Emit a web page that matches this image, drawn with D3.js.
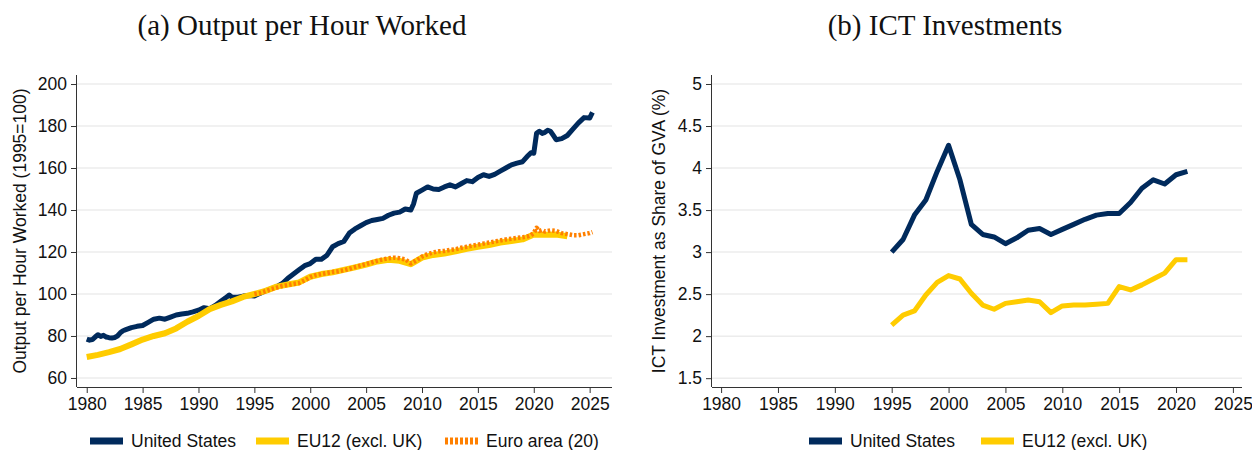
<!DOCTYPE html>
<html>
<head>
<meta charset="utf-8">
<script src="https://cdn.jsdelivr.net/npm/d3@7"></script>
<style>
  body { margin: 0; background: #fff; }
  svg { display: block; }
  .title { font-family: "Liberation Serif", "Times New Roman", serif; font-size: 29px; fill: #111; }
  .axis text { font-family: "Liberation Sans", Arial, sans-serif; font-size: 17.5px; fill: #111; }
  .axis path, .axis line { stroke: #333; }
  .ytitle { font-family: "Liberation Sans", Arial, sans-serif; font-size: 17.5px; fill: #111; }
  .legend text { font-family: "Liberation Sans", Arial, sans-serif; font-size: 17.5px; fill: #111; }
</style>
</head>
<body>
<div id="chart"></div>
<script>
// Panel (a): output per hour worked, 1995=100  [year, value]
var usOutput = [
  [1980.0,78.5],[1980.25,78.0],[1980.5,78.3],[1980.75,79.5],[1981.0,80.6],[1981.25,79.8],[1981.5,80.3],[1981.75,79.5],
  [1982.0,79.2],[1982.25,79.0],[1982.5,79.3],[1982.75,80.0],[1983.0,81.5],[1983.25,82.5],[1983.5,83.0],[1983.75,83.5],
  [1984.0,84.0],[1984.5,84.6],[1985.0,85.0],[1985.5,86.5],[1986.0,88.0],[1986.5,88.5],[1987.0,88.0],[1987.5,89.0],
  [1988.0,90.0],[1988.5,90.5],[1989.0,90.8],[1989.5,91.5],[1990.0,92.3],[1990.5,93.5],[1991.0,93.0],[1991.5,94.5],
  [1992.0,96.5],[1992.5,98.5],[1992.75,99.5],[1993.0,98.5],[1993.5,98.5],[1994.0,99.0],[1994.5,99.3],[1995.0,99.0],
  [1995.5,100.3],[1996.0,101.5],[1996.5,102.5],[1997.0,103.5],[1997.5,105.0],[1998.0,107.5],[1998.5,109.5],[1999.0,111.5],
  [1999.5,113.5],[2000.0,114.5],[2000.5,116.5],[2001.0,116.5],[2001.5,118.5],[2002.0,122.5],[2002.5,124.0],[2003.0,125.0],
  [2003.5,129.0],[2004.0,131.0],[2004.5,132.5],[2005.0,134.0],[2005.5,135.0],[2006.0,135.5],[2006.5,136.0],[2007.0,137.5],
  [2007.5,138.5],[2008.0,139.0],[2008.5,140.5],[2009.0,140.0],[2009.25,143.0],[2009.5,148.0],[2010.0,149.5],[2010.5,151.0],
  [2011.0,150.0],[2011.5,149.8],[2012.0,151.0],[2012.5,152.0],[2013.0,151.0],[2013.5,152.5],[2014.0,154.0],[2014.5,153.5],
  [2015.0,155.5],[2015.5,156.8],[2016.0,156.0],[2016.5,157.0],[2017.0,158.5],[2017.5,160.0],[2018.0,161.5],[2018.5,162.3],
  [2019.0,163.0],[2019.5,166.0],[2019.75,167.3],[2020.0,167.0],[2020.25,176.5],[2020.5,177.5],[2020.75,176.5],[2021.0,177.0],
  [2021.25,178.0],[2021.5,177.5],[2021.75,175.5],[2022.0,173.5],[2022.5,174.0],[2023.0,175.5],[2023.5,178.5],[2024.0,181.5],
  [2024.5,184.0],[2025.0,183.8],[2025.25,186.5]
];

var eu12Output = [
  [1980,70.0],[1981,71.0],[1982,72.3],[1983,73.8],[1984,76.0],[1985,78.3],[1986,80.0],[1987,81.3],[1988,83.6],
  [1989,86.8],[1990,89.5],[1991,92.8],[1992,94.8],[1993,96.5],[1994,98.6],[1995,100.0],[1996,101.5],[1997,103.5],
  [1998,104.5],[1999,105.5],[2000,108.2],[2001,109.5],[2002,110.3],[2003,111.5],[2004,112.7],[2005,114.0],[2006,115.5],
  [2007,116.3],[2008,115.8],[2009,114.2],[2010,117.3],[2011,118.6],[2012,119.3],[2013,120.3],[2014,121.5],[2015,122.5],
  [2016,123.3],[2017,124.5],[2018,125.2],[2019,126.0],[2020,128.3],[2021,128.2],[2022,128.3],[2023,127.5]
];

var euroOutput = [
  [1995.0,100.0],[1995.5,100.5],[1996.0,101.3],[1996.5,102.3],[1997.0,103.0],[1997.5,103.8],[1998.0,104.3],[1998.5,104.8],
  [1999.0,105.2],[1999.5,106.5],[2000.0,108.0],[2000.5,109.0],[2001.0,109.5],[2001.5,110.0],[2002.0,110.5],[2002.5,110.8],
  [2003.0,111.3],[2003.5,112.0],[2004.0,112.8],[2004.5,113.5],[2005.0,114.2],[2005.5,115.0],[2006.0,115.8],[2006.5,116.5],
  [2007.0,117.0],[2007.5,117.3],[2008.0,117.0],[2008.5,116.5],[2009.0,114.5],[2009.5,116.0],[2010.0,117.8],[2010.5,119.0],
  [2011.0,119.8],[2011.5,120.3],[2012.0,120.5],[2012.5,121.0],[2013.0,121.3],[2013.5,122.0],[2014.0,122.5],[2014.5,123.0],
  [2015.0,123.5],[2015.5,124.0],[2016.0,124.5],[2016.5,125.0],[2017.0,125.5],[2017.5,126.0],[2018.0,126.3],[2018.5,126.7],
  [2019.0,127.0],[2019.5,127.5],[2019.75,128.0],[2020.0,129.0],[2020.25,131.5],[2020.5,130.0],[2020.75,130.5],[2021.0,129.8],
  [2021.5,130.3],[2022.0,130.0],[2022.5,129.0],[2023.0,128.5],[2023.5,128.0],[2024.0,128.0],[2024.5,128.5],[2025.0,129.0],
  [2025.25,129.5]
];

// Panel (b): ICT investment as share of GVA (%), 1995-2021
var ictYears = d3.range(1995, 2022);
var usICT   = [3.00,3.15,3.44,3.62,3.96,4.27,3.86,3.33,3.21,3.18,3.10,3.17,3.26,3.28,3.21,3.27,3.33,3.39,3.44,3.46,3.46,3.59,3.76,3.86,3.81,3.92,3.96];
var eu12ICT = [2.13,2.25,2.30,2.49,2.64,2.72,2.68,2.51,2.37,2.32,2.39,2.41,2.43,2.41,2.28,2.36,2.37,2.37,2.38,2.39,2.59,2.55,2.61,2.68,2.75,2.91,2.91];

var xTicks = d3.range(1980, 2030, 5);
var yTicksA = [60, 80, 100, 120, 140, 160, 180, 200];
var yTicksB = [1.5, 2, 2.5, 3, 3.5, 4, 4.5, 5];

var navy = "#002a5c", yellow = "#ffcc00", orange = "#ff8000";

var svg = d3.select("#chart").append("svg")
  .attr("width", 1252)
  .attr("height", 450);

function drawPanel(opt) {
  var x = d3.scaleLinear().domain(opt.xDomain).range([opt.left, opt.right]);
  var y = d3.scaleLinear().domain(opt.yDomain).range([opt.bottom, opt.top]);

  var g = svg.append("g");

  // title
  g.append("text")
    .attr("class", "title")
    .attr("x", opt.titleX)
    .attr("y", 35)
    .attr("text-anchor", "middle")
    .text(opt.title);

  // gridlines
  g.selectAll("line.grid")
    .data(opt.yTicks)
    .enter().append("line")
    .attr("class", "grid")
    .attr("x1", opt.left).attr("x2", opt.right)
    .attr("y1", function(d) { return y(d); })
    .attr("y2", function(d) { return y(d); })
    .style("stroke", "#ececec")
    .style("stroke-width", 1.5);

  // axes
  g.append("g")
    .attr("class", "axis")
    .attr("transform", "translate(0," + opt.bottom + ")")
    .call(d3.axisBottom(x).tickValues(xTicks).tickFormat(d3.format("d")).tickSize(6).tickPadding(5).tickSizeOuter(0))
    .call(function(a) { a.select(".domain").attr("d", "M" + opt.left + ",0.5H" + opt.right); });

  g.append("g")
    .attr("class", "axis")
    .attr("transform", "translate(" + opt.left + ",0)")
    .call(d3.axisLeft(y).tickValues(opt.yTicks).tickFormat(function(d) { return d; }).tickSize(6).tickPadding(4).tickSizeOuter(0))
    .call(function(a) { a.select(".domain").attr("d", "M-0.5," + opt.top + "V" + opt.bottom); });

  g.append("text")
    .attr("class", "ytitle")
    .attr("transform", "translate(" + opt.yTitleX + "," + ((opt.top + opt.bottom) / 2) + ") rotate(-90)")
    .attr("text-anchor", "middle")
    .text(opt.yTitle);

  var line = d3.line()
    .x(function(d) { return x(d[0]); })
    .y(function(d) { return y(d[1]); });

  opt.series.forEach(function(s) {
    g.append("path")
      .datum(s.values)
      .attr("d", line)
      .style("fill", "none")
      .style("stroke", s.color)
      .style("stroke-width", s.width)
      .style("stroke-dasharray", s.dash || null)
      .style("stroke-linejoin", "round");
  });

  // legend
  var lg = g.append("g").attr("class", "legend");
  opt.series.forEach(function(s, i) {
    var lx = opt.legendX[i];
    lg.append("line")
      .attr("x1", lx).attr("x2", lx + 33)
      .attr("y1", 441).attr("y2", 441)
      .style("stroke", s.color)
      .style("stroke-width", 7)
      .style("stroke-dasharray", s.dash ? "3,2" : null);
    lg.append("text")
      .attr("x", lx + 41)
      .attr("y", 447)
      .text(s.name);
  });
}

drawPanel({
  title: "(a) Output per Hour Worked",
  titleX: 302,
  left: 77, right: 612, top: 75, bottom: 387,
  xDomain: [1979.13, 2027.0],
  yDomain: [55.7, 204.3],
  yTicks: yTicksA,
  yTitle: "Output per Hour Worked (1995=100)",
  yTitleX: 26,
  legendX: [90, 256, 445],
  series: [
    { name: "United States", values: usOutput, color: navy, width: 5 },
    { name: "EU12 (excl. UK)", values: eu12Output, color: yellow, width: 6 },
    { name: "Euro area (20)", values: euroOutput, color: orange, width: 4.5, dash: "2.5,2" }
  ]
});

drawPanel({
  title: "(b) ICT Investments",
  titleX: 945,
  left: 712, right: 1242, top: 75, bottom: 387,
  xDomain: [1979.2, 2025.8],
  yDomain: [1.395, 5.107],
  yTicks: yTicksB,
  yTitle: "ICT Investment as Share of GVA (%)",
  yTitleX: 665,
  legendX: [809, 981],
  series: [
    { name: "United States", values: ictYears.map(function(yr, i) { return [yr, usICT[i]]; }), color: navy, width: 5 },
    { name: "EU12 (excl. UK)", values: ictYears.map(function(yr, i) { return [yr, eu12ICT[i]]; }), color: yellow, width: 5 }
  ]
});
</script>
</body>
</html>
